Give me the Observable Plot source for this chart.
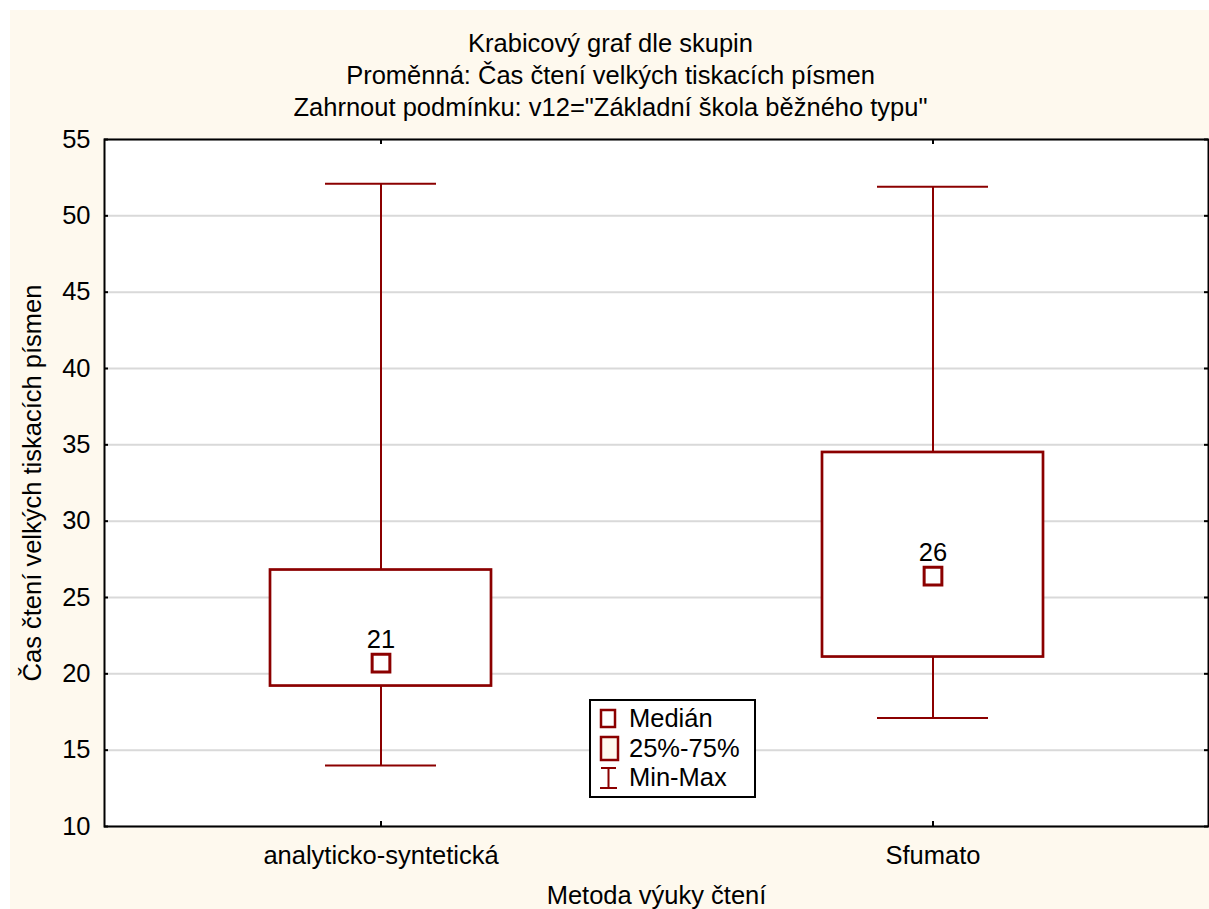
<!DOCTYPE html>
<html>
<head>
<meta charset="utf-8">
<script src="https://cdn.jsdelivr.net/npm/d3@7"></script>
<script src="https://cdn.jsdelivr.net/npm/@observablehq/plot@0.6"></script>
<style>
  html, body { margin: 0; padding: 0; background: #ffffff; }
  #wrap { position: absolute; left: 10px; top: 10px; width: 1199px; height: 899px; background: #fef9ee; }
  svg { display: block; }
</style>
</head>
<body>
<div id="wrap"></div>
<script>
// ---- data ----
const groups = ["analyticko-syntetická", "Sfumato"];
const minVals = [14.0, 17.1];
const q1Vals = [19.2, 21.1];
const medianVals = [20.7, 26.4];
const q3Vals = [26.8, 34.5];
const maxVals = [52.1, 51.9];
const yTicks = [10, 15, 20, 25, 30, 35, 40, 45, 50, 55];
const titleLines = [
  "Krabicový graf dle skupin",
  "Proměnná: Čas čtení velkých tiskacích písmen",
  "Zahrnout podmínku: v12=\"Základní škola běžného typu\""
];
const xLabel = "Metoda výuky čtení";
const yLabel = "Čas čtení velkých tiskacích písmen";
const legendItems = ["Medián", "25%-75%", "Min-Max"];

const data = groups.map((g, i) => ({
  group: g, min: minVals[i], q1: q1Vals[i], median: medianVals[i], q3: q3Vals[i], max: maxVals[i]
}));

const RED = "#8b0000";
const CREAM = "#fef9ee";
const FONT = 25.5;
const W = 1199, H = 899;
const mL = 94, mR = 1, mT = 129, mB = 83;
const plotW = W - mL - mR, plotH = H - mT - mB;

const chart = Plot.plot({
  width: W,
  height: H,
  marginLeft: mL,
  marginRight: mR,
  marginTop: mT,
  marginBottom: mB,
  style: { background: "transparent", fontFamily: "'Liberation Sans', Arial, sans-serif", color: "black", overflow: "visible" },
  x: { type: "band", domain: groups, paddingInner: 0.6, paddingOuter: 0.3, label: null },
  y: { domain: [10, 55], label: null },
  marks: [
    Plot.frame({ fill: "white", stroke: "none" }),
    Plot.ruleY(yTicks, { y: d => d, stroke: "#d9d9d9", strokeWidth: 2 }),
    // whiskers
    Plot.ruleX(data, { x: "group", y1: "min", y2: "max", stroke: RED, strokeWidth: 2 }),
    Plot.tickY(data, { x: "group", y: "min", stroke: RED, strokeWidth: 2, insetLeft: 55, insetRight: 55 }),
    Plot.tickY(data, { x: "group", y: "max", stroke: RED, strokeWidth: 2, insetLeft: 55, insetRight: 55 }),
    // boxes
    Plot.barY(data, { x: "group", y1: "q1", y2: "q3", fill: "white", stroke: RED, strokeWidth: 2.7 }),
    // medians
    Plot.dot(data, { x: "group", y: "median", symbol: "square", r: 10, stroke: RED, strokeWidth: 3, fill: "white" }),
    Plot.text(data, { x: "group", y: "median", text: d => String(Math.round(d.median)), dy: -15, lineAnchor: "bottom", fontSize: FONT, fill: "black" }),
    // inward ticks
    Plot.tickY(yTicks, { y: d => d, insetRight: plotW - 4, stroke: "black", strokeWidth: 2 }),
    Plot.tickY(yTicks, { y: d => d, insetLeft: plotW - 4, stroke: "black", strokeWidth: 2 }),
    Plot.tickX(groups, { x: d => d, insetTop: plotH - 5, stroke: "black", strokeWidth: 2 }),
    Plot.tickX(groups, { x: d => d, insetBottom: plotH - 5, stroke: "black", strokeWidth: 2 }),
    Plot.frame({ stroke: "black", strokeWidth: 2 }),
    // axes
    Plot.axisY(yTicks, { tickSize: 0, tickPadding: 14, fontSize: FONT, label: null }),
    Plot.axisX({ tickSize: 0, tickPadding: 19, fontSize: FONT, label: null }),
    // axis labels
    Plot.text([xLabel], { frameAnchor: "bottom", text: d => d, dy: 77, lineAnchor: "bottom", fontSize: FONT }),
    Plot.text([yLabel], { frameAnchor: "left", text: d => d, rotate: -90, dx: -72, textAnchor: "middle", lineAnchor: "middle", fontSize: FONT }),
    // titles
    ...titleLines.map((t, i) => Plot.text([t], { frameAnchor: "top", text: d => d, dx: -46, dy: -88 + i * 32, lineAnchor: "bottom", fontSize: FONT }))
  ]
});

document.getElementById("wrap").appendChild(chart);

// ---- legend (inside plot area) ----
const svg = d3.select(chart);
const lg = svg.append("g")
  .attr("font-family", "'Liberation Sans', Arial, sans-serif")
  .attr("font-size", FONT)
  .attr("text-anchor", "start");
const lx = 580, ly = 690;
lg.append("rect").attr("x", lx).attr("y", ly).attr("width", 165).attr("height", 97)
  .attr("fill", "white").attr("stroke", "black").attr("stroke-width", 2);
// median marker
lg.append("rect").attr("x", lx + 11).attr("y", ly + 10).attr("width", 14).attr("height", 17)
  .attr("fill", "white").attr("stroke", RED).attr("stroke-width", 2.5);
// box marker
lg.append("rect").attr("x", lx + 11).attr("y", ly + 37).attr("width", 17).attr("height", 23)
  .attr("fill", CREAM).attr("stroke", RED).attr("stroke-width", 2.5);
// whisker marker
lg.append("path").attr("d", `M${lx + 11},${ly + 68}H${lx + 26}M${lx + 18.5},${ly + 68}V${ly + 88}M${lx + 10},${ly + 88}H${lx + 27}`)
  .attr("fill", "none").attr("stroke", RED).attr("stroke-width", 2);
legendItems.forEach((t, i) => {
  lg.append("text").attr("x", lx + 39).attr("y", ly + 27 + i * 29.5).attr("fill", "black").attr("text-anchor", "start").text(t);
});
</script>
</body>
</html>
